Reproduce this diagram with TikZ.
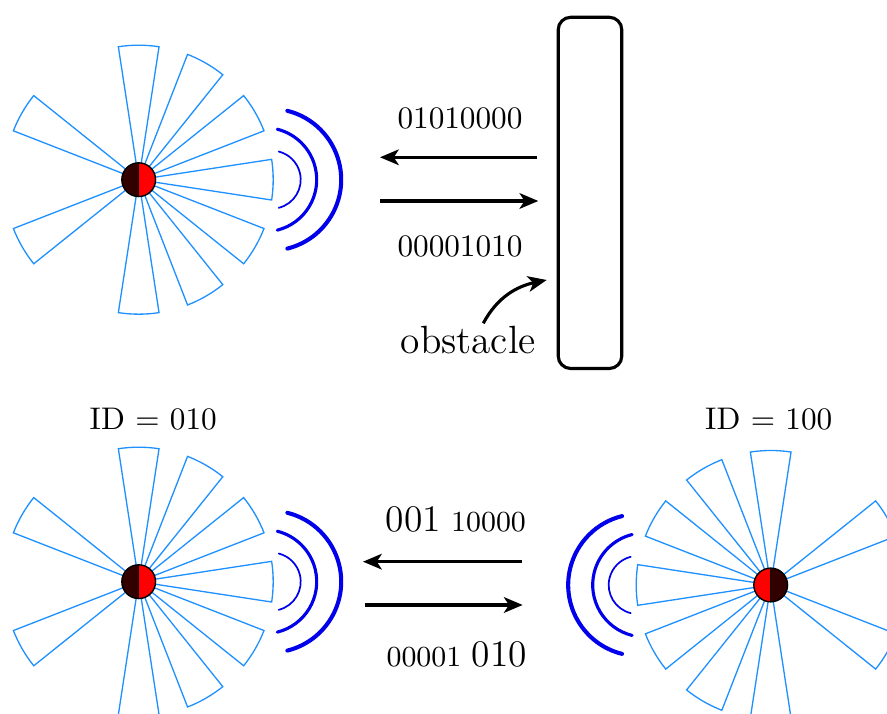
\documentclass[tikz,border=0pt]{standalone}
\usetikzlibrary{arrows.meta}
\definecolor{petalblue}{RGB}{30,144,255}
\definecolor{sdark}{RGB}{51,0,0}
\definecolor{sred}{RGB}{255,0,0}
\definecolor{waveblue}{RGB}{0,0,235}
\tikzset{
  petal/.style={draw=petalblue, line width=0.42pt, line join=miter},
  wave/.style={draw=waveblue, line cap=round},
  arr/.style={line width=1pt, -{Stealth[length=6pt,width=5pt,inset=1.6pt]}},
  lbl/.style={inner sep=0pt, font=\normalsize},
}
\newcommand\sensor[6]{%
  \begin{scope}[shift={(#1,#2)}, xscale=#3]
    \foreach \a in {90,60,30,0,-30,-60,-90,150,210}
      \draw[petal] (0,0) -- (\a-8.7:134.5) arc[start angle=\a-8.7, end angle=\a+8.7, radius=134.5] -- cycle;
    \draw[wave, line width=0.55pt] ([shift={(-76:29)}]133,0) arc[start angle=-76, end angle=76, radius=29];
    \draw[wave, line width=1pt] ([shift={(-76:52)}]126,0) arc[start angle=-76, end angle=76, radius=52];
    \draw[wave, line width=1.3pt] ([shift={(-76:71)}]131.5,0) arc[start angle=-76, end angle=76, radius=71];
  \end{scope}
  \node[circle, draw, line width=0.45pt, minimum size=10.8pt, inner sep=0pt,
        path picture={
          \fill[#5] (path picture bounding box.south west) rectangle (path picture bounding box.north);
          \fill[#6] (path picture bounding box.south) rectangle (path picture bounding box.north east);
          \draw[line width=0.45pt] (path picture bounding box.south) -- (path picture bounding box.north);
        }] (#4) at (#1,#2) {};
}
\begin{document}
\begin{tikzpicture}[x=0.32pt, y=0.32pt]
  \useasboundingbox (0,0) rectangle (887,714);
  \clip (0,0) rectangle (887,714);

  % ---------- top scene ----------
  \sensor{138.7}{534.3}{1}{s1}{sdark}{sred}
  \node[draw, line width=1pt, rounded corners=4pt, minimum width=20.35pt, minimum height=112.4pt, inner sep=0pt] (obst) at (590,521.1) {};

  \coordinate (a1s) at (536.7,556.7);
  \coordinate (a1e) at (380,556.7);
  \coordinate (a2s) at (380,513);
  \coordinate (a2e) at (538.3,513);
  \draw[arr] (a1s) -- (a1e);
  \draw[arr] (a2s) -- (a2e);
  \node[lbl] (t1) at (460,595.7) {01010000};
  \node[lbl] (t2) at (460,468) {00001010};

  \node[lbl, anchor=base, font=\fontsize{12.6}{15}\selectfont] (obl) at (468.3,360.7) {obstacle};
  \coordinate (cs) at (483.3,390.7);
  \coordinate (ce) at (546.7,434);
  \draw[arr] (cs) to[out=62, in=192] (ce);

  % ---------- bottom scene ----------
  \sensor{138.7}{132.3}{1}{s2}{sdark}{sred}
  \sensor{770.7}{129}{-1}{s3}{sred}{sdark}

  \node[lbl] (id1) at (153.3,295.2) {ID $=$ 010};
  \node[lbl] (id2) at (768.8,295.2) {ID $=$ 100};

  \coordinate (b1s) at (521.7,152.3);
  \coordinate (b1e) at (363,152.3);
  \coordinate (b2s) at (365,109);
  \coordinate (b2e) at (522.7,109);
  \draw[arr] (b1s) -- (b1e);
  \draw[arr] (b2s) -- (b2e);
  \node[lbl, anchor=base] (t3) at (455.8,182) {{\large 001} {\fontsize{9.3}{11}\selectfont 10000}};
  \node[lbl, anchor=base] (t4) at (456.7,47.3) {{\fontsize{9.3}{11}\selectfont 00001} {\large 010}};
\end{tikzpicture}
\end{document}
